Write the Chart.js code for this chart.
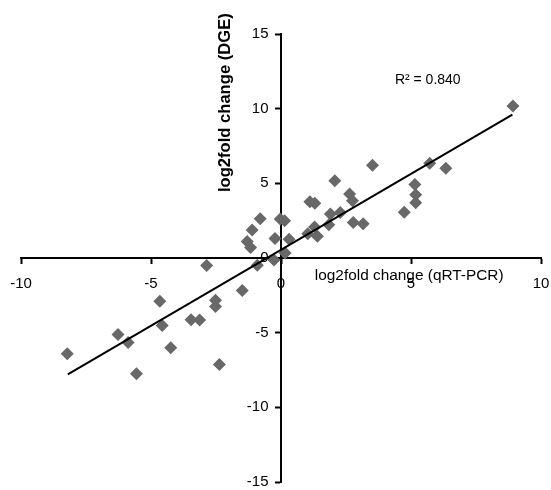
<!DOCTYPE html>
<html lang="en">
  <head>
    <meta charset="UTF-8" />
    <title>qRT-PCR vs DGE</title>
    <script src="https://cdn.jsdelivr.net/npm/chart.js"></script>
    <style>
      body { margin: 0; background: #fff; }
      #wrap { width: 551px; height: 490px; }
    </style>
  </head>
  <body>
    <div id="wrap"><canvas id="myChart"></canvas></div>

    <script>
      // log2 fold change: qRT-PCR (x) vs DGE (y)
      const qrtPcr = [
        8.92, 5.72, 6.34, 3.52, 2.07, 5.15, 5.18, 5.18, 2.64, 2.75,
        1.11, 1.3, 4.74, 2.28, 1.9, 2.78, 3.16, 1.84, 1.29, 1.03,
        1.4, -0.03, 0.14, -0.8, -1.11, -1.3, -1.17, -0.23, 0.31, 0.16,
        -0.27, -0.91, -2.86, -1.49, -2.52, -2.52, -4.66, -3.46, -3.13, -4.57,
        -4.24, -6.27, -5.88, -8.22, -5.56, -2.37
      ];
      const dge = [
        10.18, 6.35, 6.01, 6.21, 5.17, 4.92, 4.23, 3.7, 4.28, 3.83,
        3.76, 3.67, 3.07, 3.05, 2.94, 2.38, 2.29, 2.23, 2.07, 1.63,
        1.45, 2.61, 2.49, 2.63, 1.87, 1.11, 0.71, 1.31, 1.25, 0.33,
        -0.13, -0.49, -0.51, -2.18, -2.83, -3.25, -2.9, -4.14, -4.16, -4.52,
        -6.01, -5.12, -5.66, -6.41, -7.75, -7.13
      ];
      // trend line end points
      const trendX = [-8.2, 8.9];
      const trendY = [-7.8, 9.6];
      const xTicks = [-10, -5, 0, 5, 10];
      const yTicks = [-15, -10, -5, 0, 5, 10, 15];
      const rSquared = "R² = 0.840";
      const xTitle = "log2fold change (qRT-PCR)";
      const yTitle = "log2fold change (DGE)";

      const points = qrtPcr.map((x, i) => ({ x: x, y: dge[i] }));
      const trend = trendX.map((x, i) => ({ x: x, y: trendY[i] }));

      const fontFam = "'Liberation Sans', Arial, sans-serif";

      // axis titles + R² drawn next to the crossing axes
      const labelsPlugin = {
        id: "labels",
        afterDraw(chart) {
          const ctx = chart.ctx;
          const xs = chart.scales.x;
          const ys = chart.scales.y;
          ctx.save();
          ctx.fillStyle = "#000";
          ctx.textBaseline = "middle";

          ctx.font = "15.4px " + fontFam;
          ctx.textAlign = "left";
          ctx.fillText(xTitle, xs.getPixelForValue(1.3), ys.getPixelForValue(-1.2));

          ctx.font = "14px " + fontFam;
          ctx.fillText(rSquared, xs.getPixelForValue(4.38), ys.getPixelForValue(11.9));

          ctx.font = "bold 16.6px " + fontFam;
          ctx.translate(xs.getPixelForValue(-2.15), ys.getPixelForValue(10.4));
          ctx.rotate(-Math.PI / 2);
          ctx.textAlign = "center";
          ctx.fillText(yTitle, 0, 0);
          ctx.restore();
        },
      };

      const axisCommon = {
        grid: {
          drawOnChartArea: false,
          drawTicks: true,
          tickLength: 5,
          tickColor: "#000",
          tickWidth: 2,
        },
        border: { display: true, color: "#000", width: 2 },
        ticks: {
          color: "#000",
          font: { family: fontFam, size: 15 },
        },
      };

      new Chart(document.getElementById("myChart"), {
        type: "scatter",
        data: {
          datasets: [
            {
              label: "genes",
              data: points,
              pointStyle: "rectRot",
              pointRadius: 6.5,
              pointHoverRadius: 6.5,
              backgroundColor: "#686868",
              borderColor: "#686868",
              borderWidth: 0,
              order: 2,
            },
            {
              label: "trend",
              type: "line",
              data: trend,
              borderColor: "#000",
              borderWidth: 2,
              pointRadius: 0,
              fill: false,
              order: 1,
            },
          ],
        },
        options: {
          responsive: true,
          maintainAspectRatio: false,
          animation: false,
          layout: { padding: { left: 21, right: 10, top: 34, bottom: 8 } },
          plugins: {
            legend: { display: false },
            tooltip: { enabled: false },
          },
          scales: {
            x: {
              ...axisCommon,
              type: "linear",
              min: -10,
              max: 10,
              position: { y: 0 },
              afterBuildTicks: (s) => { s.ticks = xTicks.map((v) => ({ value: v })); },
              // label overhang would shrink the plot, layout padding covers it
              afterFit: (s) => { s.paddingLeft = 0; s.paddingRight = 0; },
              ticks: { ...axisCommon.ticks, padding: 12, maxRotation: 0 },
            },
            y: {
              ...axisCommon,
              type: "linear",
              min: -15,
              max: 15,
              position: { x: 0 },
              afterBuildTicks: (s) => { s.ticks = yTicks.map((v) => ({ value: v })); },
              afterFit: (s) => { s.paddingTop = 0; s.paddingBottom = 0; },
              // centred axis puts labels flush on the line, pad with spaces
              ticks: { ...axisCommon.ticks, callback: (v) => v + "   " },
            },
          },
        },
        plugins: [labelsPlugin],
      });
    </script>
  </body>
</html>
